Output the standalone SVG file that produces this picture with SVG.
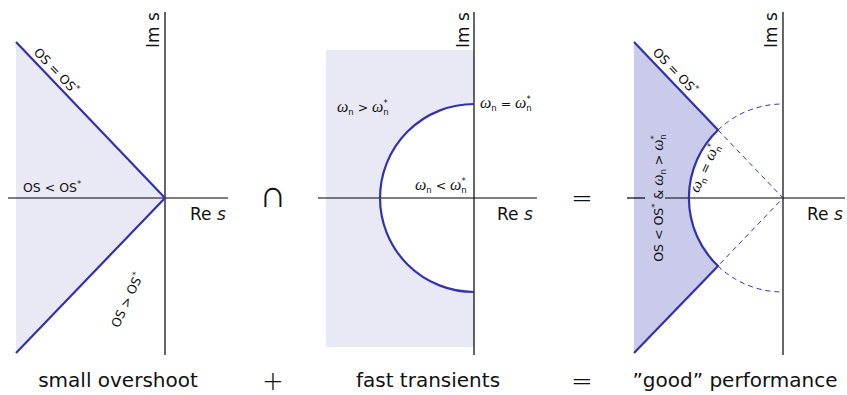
<svg xmlns="http://www.w3.org/2000/svg" width="847" height="395" viewBox="0 0 847 395">
<style>
.axis{stroke:#000;stroke-width:1.2;fill:none}
.bound{stroke:#3232b0;stroke-width:2.2;fill:none;stroke-linejoin:miter}
.dash{stroke:#3232b0;stroke-width:1;stroke-dasharray:5 4;fill:none}
.light{fill:#e9e9f5}
.dark{fill:#cacaea}
text{font-family:"DejaVu Sans","Liberation Sans",sans-serif;fill:#111}
.lbl{font-size:12.5px}
.ax{font-size:17px}
.cap{font-size:20px}
.op{font-size:26px;font-weight:200}
.cup{font-size:38px;font-weight:200}
.w{font-family:"Liberation Serif","DejaVu Serif",serif;font-style:italic;font-size:16px}
.it{font-style:italic}
.sm{font-size:8.5px}
</style>
<g id="panel1">
  <path class="light" d="M16,42 L165,198 L16,353 Z"/>
  <line class="axis" x1="165" y1="12" x2="165" y2="355"/>
  <line class="axis" x1="8" y1="198" x2="228" y2="198"/>
  <path class="bound" d="M16,42 L165,198 L16,353"/>
  <text class="ax" transform="translate(159,48) rotate(-90)">Im s</text>
  <text class="ax" x="190" y="220">Re <tspan class="it">s</tspan></text>
  <text class="lbl" text-anchor="middle" transform="translate(53,74) rotate(46.3)">OS = OS<tspan class="sm" dy="-5">*</tspan></text>
  <text class="lbl" x="23" y="192">OS &lt; OS<tspan class="sm" dy="-5">*</tspan></text>
  <text class="lbl" text-anchor="middle" transform="translate(131,302) rotate(-65)">OS &gt; OS<tspan class="sm" dy="-5">*</tspan></text>
</g>
<g id="panel2">
  <rect class="light" x="326" y="50" width="148" height="297"/>
  <path d="M474,104 A94,94 0 0 0 474,292 Z" fill="#fff"/>
  <line class="axis" x1="474" y1="12" x2="474" y2="355"/>
  <line class="axis" x1="318" y1="198" x2="537" y2="198"/>
  <path class="bound" d="M474,104 A94,94 0 0 0 474,292"/>
  <text class="ax" transform="translate(469,48) rotate(-90)">Im s</text>
  <text class="ax" x="497" y="220">Re <tspan class="it">s</tspan></text>
  <text class="lbl" x="337" y="112"><tspan class="w">ω</tspan><tspan class="sm" dy="3">n</tspan><tspan dy="-3"> &gt; </tspan><tspan class="w">ω</tspan><tspan class="sm" dy="-6">*</tspan><tspan class="sm" dx="-4.5" dy="9">n</tspan></text>
  <text class="lbl" x="480" y="108"><tspan class="w">ω</tspan><tspan class="sm" dy="3">n</tspan><tspan dy="-3"> = </tspan><tspan class="w">ω</tspan><tspan class="sm" dy="-6">*</tspan><tspan class="sm" dx="-4.5" dy="9">n</tspan></text>
  <text class="lbl" x="415" y="190"><tspan class="w">ω</tspan><tspan class="sm" dy="3">n</tspan><tspan dy="-3"> &lt; </tspan><tspan class="w">ω</tspan><tspan class="sm" dy="-6">*</tspan><tspan class="sm" dx="-4.5" dy="9">n</tspan></text>
</g>
<g id="panel3">
  <path class="dark" d="M634,42 L718,130 A94,94 0 0 0 718,266 L634,353 Z"/>
  <line class="axis" x1="783" y1="12" x2="783" y2="355"/>
  <line class="axis" x1="627" y1="198" x2="645" y2="198"/>
  <line class="axis" x1="665" y1="198" x2="845" y2="198"/>
  <path class="dash" d="M718,130 L783,198 L718,266"/>
  <path class="dash" d="M718,130 A94,94 0 0 1 783,104"/>
  <path class="dash" d="M718,266 A94,94 0 0 0 783,292"/>
  <path class="bound" d="M634,42 L718,130 A94,94 0 0 0 718,266 L634,353"/>
  <text class="ax" transform="translate(777,48) rotate(-90)">Im s</text>
  <text class="ax" x="807" y="220">Re <tspan class="it">s</tspan></text>
  <text class="lbl" text-anchor="middle" transform="translate(672,74) rotate(46.3)">OS = OS<tspan class="sm" dy="-5">*</tspan></text>
  <text class="lbl" text-anchor="middle" transform="translate(663,198) rotate(-90)">OS &lt; OS<tspan class="sm" dy="-5">*</tspan><tspan dy="5"> &amp; </tspan><tspan class="w">ω</tspan><tspan class="sm" dy="3">n</tspan><tspan dy="-3"> &gt; </tspan><tspan class="w">ω</tspan><tspan class="sm" dy="-6">*</tspan><tspan class="sm" dx="-4.5" dy="9">n</tspan></text>
  <text class="lbl" text-anchor="middle" transform="translate(709,170) rotate(-65.6)"><tspan class="w">ω</tspan><tspan class="sm" dy="3">n</tspan><tspan dy="-3"> = </tspan><tspan class="w">ω</tspan><tspan class="sm" dy="-6">*</tspan><tspan class="sm" dx="-4.5" dy="9">n</tspan></text>
</g>
<g id="operators">
  <text class="cup" x="273" y="207" text-anchor="middle">∩</text>
  <text class="op" x="582" y="207" text-anchor="middle">=</text>
</g>
<g id="captions">
  <text class="cap" x="118" y="387" text-anchor="middle">small overshoot</text>
  <text class="op" x="273" y="390" text-anchor="middle">+</text>
  <text class="cap" x="428" y="387" text-anchor="middle">fast transients</text>
  <text class="op" x="582" y="390" text-anchor="middle">=</text>
  <text class="cap" x="735" y="387" text-anchor="middle">”good” performance</text>
</g>
</svg>
